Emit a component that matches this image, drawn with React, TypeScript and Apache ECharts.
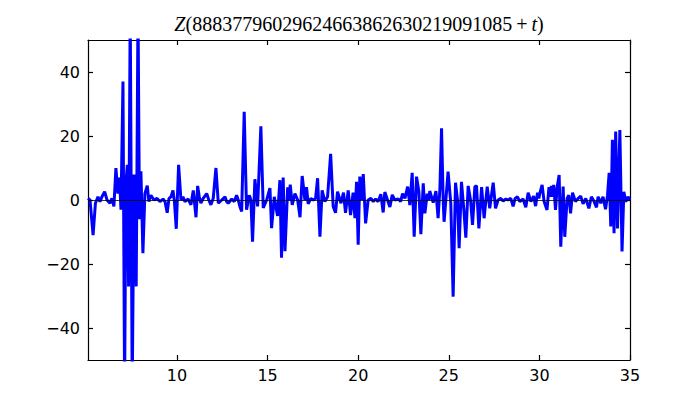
import React, { useEffect, useRef } from "react";
import * as echarts from "echarts";

const titleNumber = "88837796029624663862630219091085";
const xTicks = [10, 15, 20, 25, 30, 35];
const yTicks = [-40, -20, 0, 20, 40];
const xMin = 5.09;
const xMax = 35;
const yMin = -50;
const yMax = 50;

const tValues = [
  5.09, 5.2, 5.37, 5.5, 5.64, 5.75, 5.86, 6.01, 6.14, 6.3,
  6.41, 6.52, 6.63, 6.74, 6.83, 6.91, 7.02, 7.11, 7.18, 7.26,
  7.33, 7.42, 7.53, 7.63, 7.75, 7.85, 7.93, 8.01, 8.12, 8.23,
  8.36, 8.45, 8.56, 8.73, 8.9, 9.06, 9.23, 9.34, 9.46, 9.56,
  9.67, 9.78, 9.86, 9.96, 10.09, 10.22, 10.33, 10.44, 10.62, 10.77,
  10.9, 11.05, 11.14, 11.23, 11.32, 11.45, 11.64, 11.76, 11.87, 12.0,
  12.15, 12.28, 12.47, 12.65, 12.74, 12.83, 13.02, 13.16, 13.29, 13.38,
  13.47, 13.57, 13.71, 13.84, 13.99, 14.08, 14.17, 14.3, 14.45, 14.63,
  14.76, 14.95, 15.13, 15.22, 15.37, 15.55, 15.68, 15.77, 15.86, 15.96,
  16.11, 16.18, 16.25, 16.36, 16.51, 16.66, 16.79, 16.91, 17.06, 17.15,
  17.24, 17.39, 17.52, 17.65, 17.76, 17.89, 18.01, 18.16, 18.31, 18.48,
  18.62, 18.75, 18.86, 19.05, 19.19, 19.3, 19.45, 19.58, 19.72, 19.82,
  19.91, 20.0, 20.09, 20.19, 20.28, 20.41, 20.55, 20.7, 20.83, 20.96,
  21.1, 21.25, 21.38, 21.47, 21.62, 21.75, 21.88, 22.02, 22.21, 22.34,
  22.45, 22.58, 22.73, 22.85, 22.98, 23.09, 23.22, 23.35, 23.46, 23.59,
  23.68, 23.81, 23.9, 23.95, 24.14, 24.29, 24.41, 24.51, 24.6, 24.69,
  24.74, 24.88, 24.96, 25.11, 25.24, 25.37, 25.48, 25.57, 25.7, 25.83,
  25.94, 26.07, 26.2, 26.31, 26.44, 26.53, 26.66, 26.81, 26.95, 27.12,
  27.26, 27.45, 27.58, 27.72, 27.87, 28.0, 28.15, 28.27, 28.42, 28.55,
  28.66, 28.79, 28.92, 29.1, 29.25, 29.38, 29.53, 29.68, 29.79, 29.9,
  29.97, 30.02, 30.15, 30.26, 30.42, 30.53, 30.61, 30.66, 30.74, 30.79,
  30.89, 30.98, 31.09, 31.18, 31.31, 31.4, 31.53, 31.62, 31.72, 31.83,
  31.99, 32.14, 32.28, 32.41, 32.56, 32.73, 32.87, 33.02, 33.15, 33.24,
  33.39, 33.51, 33.65, 33.76, 33.85, 33.94, 34.03, 34.12, 34.21, 34.31,
  34.44, 34.56, 34.66, 34.77, 34.89, 34.99,
];

const zValues = [
  0.5, 0, -11, -1, 1, -0.5, 1, 2.6, 0, -1,
  0.5, -2, 10, 2, 7, -3, 37, -60, 5, 11,
  -27, 60, -60, 8, -27, 60, -6, 9, -16.6, 2,
  4.5, -0.5, 1.5, 0, 0.5, -0.5, 0.3, -0.5, -4, 0.5,
  1, 3, -0.5, -9, 11, 0, 1, -0.5, 0.3, -1.5,
  3, -5.4, 4.4, 1, -1, 0.5, 2, 0, -1.5, 0.5,
  10, -1, 0, 1, -0.5, -1, 0.3, -0.5, 1.5, 0,
  -2, -3.6, 27.6, -3, 1.5, 0, -13, 6.5, -2, 23,
  -2.5, 0, 3.7, -8.8, 1, -5, 6.2, -18, 7, -16,
  4, 0, 4.8, -1.5, 2, 0, -5.4, 7.5, 0, 4,
  -1.2, 0.5, 0, 0.5, 6.8, -11.5, 3, -0.5, 1, 14.4,
  -2, -4, 2.6, -1, 2.3, -4, 3, -4.7, 2.3, -5.7,
  5.7, -14, 7.3, 0, 8.1, -7.3, 0, 0.5, -0.5, 0.3,
  -0.5, 1.8, -3.9, 2.5, 0, -2.2, 1.6, 0, 0.3, -0.5,
  2, 0.5, 4.2, -1.6, 8.5, -11.5, 7.3, 2.6, -10.7, 5.2,
  -4.2, 2, 0, 2.8, -0.8, 2.8, -5.7, 3.6, 22.4, 0,
  -6.8, 3, 8.9, -1, -30.2, 5.4, 0, -15.1, 5.7, -3,
  -11.8, 4.4, 0, -7.8, 4.2, 4.4, -8.9, 4, -5.7, 4.2,
  -2.6, 5.4, -2.6, 0, 0.5, -0.3, 0.3, 0, 0.5, -2,
  0.5, 1, -0.5, 0.3, -2.3, 2.3, -0.5, 1.2, -1.9, 2.3,
  0.5, 2, 4.7, -0.5, -3.1, 4, 1, 4.4, 1, 4.7,
  -3.1, 4, 7.8, -14.6, 4.2, -11.5, 0.5, 1.5, -4.2, 2.3,
  -0.5, 0.5, 1.2, -1.2, 0.5, -2.6, 1, -0.5, -2.3, 1,
  -1, 1, -2.9, 1.5, 8.5, -8.3, 18.8, -10.4, 21.4, -8.9,
  21.9, -16.1, 2.6, -0.5, 1, 0,
];

const minusFmt = (v: number) => (v < 0 ? "\u2212" + Math.abs(v) : String(v));

export default function App() {
  const ref = useRef<HTMLDivElement>(null);
  useEffect(() => {
    document.body.style.margin = "0";
    const chart = echarts.init(ref.current!, null, { renderer: "svg" });
    const data = tValues.map((t, i) => [t, zValues[i]]);
    const labelStyle = {
      color: "#000",
      fontSize: 16,
      fontFamily: "DejaVu Sans",
    };
    const lineStyle = { color: "#000", width: 1.2 };
    const xAxisBase = {
      type: "value",
      min: xMin,
      max: xMax,
      splitLine: { show: false },
      axisLine: { show: true, onZero: false, lineStyle },
      axisTick: { show: true, inside: true, length: 5, customValues: xTicks, lineStyle },
    };
    const yAxisBase = {
      type: "value",
      min: yMin,
      max: yMax,
      splitLine: { show: false },
      axisLine: { show: true, onZero: false, lineStyle },
      axisTick: { show: true, inside: true, length: 5, customValues: yTicks, lineStyle },
    };
    chart.setOption({
      animation: false,
      grid: { left: 88, right: 70, top: 40, bottom: 40, containLabel: false },
      xAxis: [
        {
          ...xAxisBase,
          position: "bottom",
          axisLabel: { ...labelStyle, margin: 7, customValues: xTicks, formatter: minusFmt },
        },
        { ...xAxisBase, position: "top", axisLabel: { show: false } },
      ],
      yAxis: [
        {
          ...yAxisBase,
          position: "left",
          axisLabel: { ...labelStyle, margin: 8, customValues: yTicks, formatter: minusFmt },
        },
        { ...yAxisBase, position: "right", axisLabel: { show: false } },
      ],
      graphic: [
        {
          type: "text",
          x: 359,
          y: 34,
          style: {
            text: "{i|Z}{r|(" + titleNumber + "\u2009+\u2009}{i|t}{r|)}",
            align: "center",
            verticalAlign: "bottom",
            rich: {
              i: { fontFamily: "Liberation Serif", fontStyle: "italic", fontSize: 20, fill: "#000", color: "#000" },
              r: { fontFamily: "Liberation Serif", fontSize: 20, fill: "#000", color: "#000" },
            },
          },
        },
      ],
      series: [
        {
          type: "line",
          xAxisIndex: 0,
          yAxisIndex: 0,
          data: [],
          z: 1,
          markLine: {
            silent: true,
            symbol: ["none", "none"],
            label: { show: false },
            lineStyle: { color: "#000", width: 0.8, type: "solid" },
            data: [{ yAxis: 0 }],
          },
        },
        {
          type: "line",
          xAxisIndex: 0,
          yAxisIndex: 0,
          data,
          z: 3,
          showSymbol: false,
          symbol: "none",
          clip: true,
          lineStyle: { color: "#0000ff", width: 3 },
        },
      ],
    });
    return () => chart.dispose();
  }, []);
  return <div ref={ref} style={{ width: 700, height: 400 }} />;
}
